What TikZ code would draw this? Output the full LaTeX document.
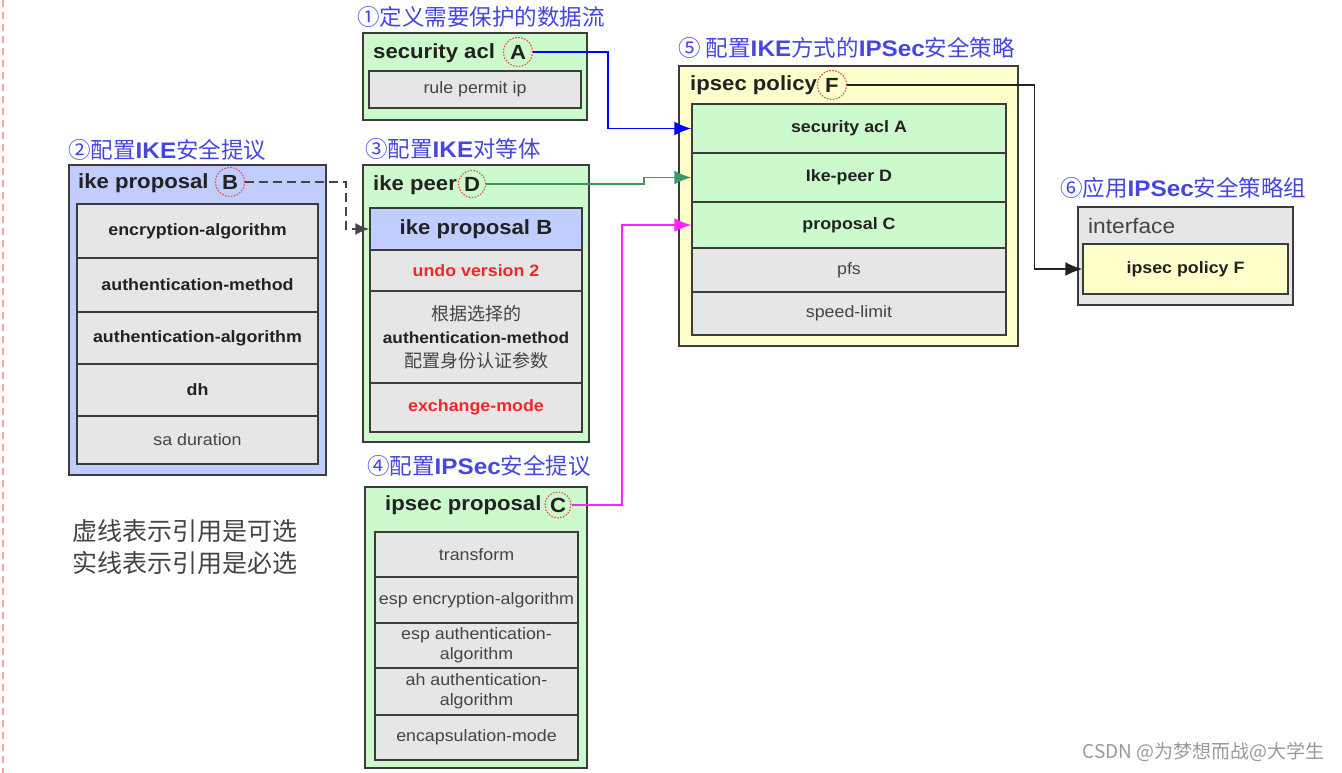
\documentclass[tikz,border=0pt]{standalone}
\usepackage{fontspec}
\setmainfont{Liberation Sans}[FakeStretch=1.08]
\newfontfamily\cjk{Noto Sans CJK SC}
\usetikzlibrary{arrows.meta}
\definecolor{bord}{HTML}{3C3C3C}
\definecolor{gfill}{HTML}{CCFACC}
\definecolor{bfill}{HTML}{C2CDFF}
\definecolor{grayfill}{HTML}{E6E6E6}
\definecolor{yfill}{HTML}{FFFFCC}
\definecolor{lblue}{HTML}{4646E0}
\definecolor{redtxt}{HTML}{F02828}
\definecolor{grn}{HTML}{3A9A66}
\definecolor{circred}{HTML}{E0504A}
\definecolor{txtdark}{HTML}{222222}
\definecolor{txtgray}{HTML}{444444}
\definecolor{pinkline}{HTML}{F2A4A4}
\definecolor{wmark}{HTML}{9A9A9A}
\definecolor{mag}{HTML}{FF22FF}
\newcommand\rbox[7]{%
  \pgfmathsetmacro\rbw{#5-#3}\pgfmathsetmacro\rbh{#6-#4}%
  \node[#1, minimum width=\rbw pt, minimum height=\rbh pt] (#2) at ({(#3+#5)/2},{(#4+#6)/2}) {#7};}
\tikzset{
  outerbox/.style={draw=bord, line width=1.8pt, inner sep=0pt},
  rowb/.style={draw=bord, line width=1.5pt, fill=grayfill, inner sep=0pt, align=center,
    font=\fontsize{16.5}{18}\selectfont\bfseries, text=txtdark},
  rowr/.style={draw=bord, line width=1.5pt, fill=grayfill, inner sep=0pt, align=center,
    font=\fontsize{16.5}{18}\selectfont, text=txtgray},
  titletxt/.style={anchor=west, inner sep=0pt, font=\fontsize{20.5}{24}\selectfont\bfseries, text=txtdark},
  lbl/.style={anchor=west, inner sep=0pt, font=\fontsize{22.5}{26}\selectfont, text=lblue},
  circ/.style={circle, draw=circred, dash pattern=on 1.6pt off 1.4pt, line width=1.1pt,
    minimum size=29pt, inner sep=0pt, font=\fontsize{20.5}{24}\selectfont\bfseries, text=txtdark},
  conn/.style={line width=1.8pt, -{Latex[length=17pt,width=14pt]}},
}
\begin{document}
\begin{tikzpicture}[x=1pt,y=-1pt]
\useasboundingbox[fill=white] (0,0) rectangle (1342,773);
% left dashed border
\coordinate (lt) at (3,0); \coordinate (lb) at (3,773);
\draw[pinkline, line width=1.6pt, dash pattern=on 7pt off 5pt] (lt) -- (lb);

% ---------- 1 security acl ----------
\node[lbl] (l1) at (357,17) {\cjk ①定义需要保护的数据流};
\rbox{outerbox, fill=gfill}{acl}{363}{33}{587}{120}{}
\node[titletxt] (aclt) at (373,53) {security acl};
\node[circ] (A) at (518,52) {A};
\rbox{rowr}{acl1}{369}{71}{581}{108}{rule permit ip}

% ---------- 2 ike proposal ----------
\node[lbl] (l2) at (68,150) {{\cjk ②配置}\textbf{IKE}{\cjk 安全提议}};
\rbox{outerbox, fill=bfill}{ikp}{69}{165}{326}{475}{}
\node[titletxt] (ikpt) at (78,183) {ike proposal};
\node[circ] (B) at (230,182) {B};
\rbox{rowb}{ikp1}{77}{204}{318}{258}{encryption-algorithm}
\rbox{rowb}{ikp2}{77}{258}{318}{312}{authentication-method}
\rbox{rowb}{ikp3}{77}{312}{318}{364}{authentication-algorithm}
\rbox{rowb}{ikp4}{77}{364}{318}{416}{dh}
\rbox{rowr}{ikp5}{77}{416}{318}{464}{sa duration}

% ---------- 3 ike peer ----------
\node[lbl] (l3) at (365,149) {{\cjk ③配置}\textbf{IKE}{\cjk 对等体}};
\rbox{outerbox, fill=gfill}{peer}{363}{165}{589}{442}{}
\node[titletxt] (peert) at (373,185) {ike peer};
\node[circ, minimum size=27pt] (D) at (472,184) {D};
\rbox{rowb, fill=bfill, font=\fontsize{20.5}{24}\selectfont\bfseries}{peer1}{370}{208}{582}{250}{ike proposal B}
\rbox{rowb, text=redtxt}{peer2}{370}{250}{582}{291}{undo version 2}
\rbox{rowb, font=\fontsize{16}{23.5}\selectfont\bfseries}{peer3}{370}{291}{582}{383}{{\cjk\mdseries\fontsize{18}{23.5}\selectfont\color{txtgray}根据选择的}\\authentication-method\\{\cjk\mdseries\fontsize{18}{23.5}\selectfont\color{txtgray}配置身份认证参数}}
\rbox{rowb, text=redtxt}{peer4}{370}{383}{582}{432}{exchange-mode}

% ---------- 4 ipsec proposal ----------
\node[lbl] (l4) at (367,466) {{\cjk ④配置}\textbf{IPSec}{\cjk 安全提议}};
\rbox{outerbox, fill=gfill}{ipp}{365}{487}{587}{768}{}
\node[titletxt] (ippt) at (385,505) {ipsec proposal};
\node[circ, minimum size=26pt] (C) at (558,505) {C};
\rbox{rowr}{ipp1}{375}{532}{578}{577}{transform}
\rbox{rowr}{ipp2}{375}{577}{578}{623}{esp encryption-algorithm}
\rbox{rowr, font=\fontsize{16.5}{20}\selectfont}{ipp3}{375}{623}{578}{668}{esp authentication-\\algorithm}
\rbox{rowr, font=\fontsize{16.5}{20}\selectfont}{ipp4}{375}{668}{578}{715}{ah authentication-\\algorithm}
\rbox{rowr}{ipp5}{375}{715}{578}{760}{encapsulation-mode}

% ---------- 5 ipsec policy ----------
\node[lbl] (l5) at (678,48) {{\cjk ⑤ 配置}\textbf{IKE}{\cjk 方式的}\textbf{IPSec}{\cjk 安全策略}};
\rbox{outerbox, fill=yfill}{pol}{679}{66}{1018}{346}{}
\node[titletxt] (polt) at (690,85) {ipsec policy};
\node[circ] (F) at (832,85) {F};
\rbox{rowb, fill=gfill}{pol1}{692}{104}{1006}{153}{security acl A}
\rbox{rowb, fill=gfill}{pol2}{692}{153}{1006}{202}{Ike-peer D}
\rbox{rowb, fill=gfill}{pol3}{692}{202}{1006}{248}{proposal C}
\rbox{rowr}{pol4}{692}{248}{1006}{292}{pfs}
\rbox{rowr}{pol5}{692}{292}{1006}{335}{speed-limit}

% ---------- 6 interface ----------
\node[lbl] (l6) at (1060,188) {{\cjk ⑥应用}\textbf{IPSec}{\cjk 安全策略组}};
\rbox{outerbox, fill=grayfill}{intf}{1078}{207}{1293}{305}{}
\node[titletxt, font=\fontsize{21}{24}\selectfont, text=txtgray] (intft) at (1088,226) {interface};
\rbox{rowb, fill=yfill}{intf1}{1083}{244}{1288}{294}{ipsec policy F}

% ---------- connectors ----------
\draw[conn, blue] (A.east) -| ([xshift=-83pt]pol1.west) -- (pol1.west);
\draw[conn, grn] (D.east) -| ([xshift=-47pt]pol2.west) -- (pol2.west);
\draw[conn, mag] (C.east) -| ([xshift=-69pt]pol3.west) -- (pol3.west);
\draw[line width=1.6pt, draw=txtgray, dash pattern=on 9pt off 5pt, -{Latex[length=14pt,width=12pt]}] (B.east) -| ([xshift=-23pt]peer1.west) -- (peer1.west);
\draw[line width=1.5pt, draw=txtdark, -{Latex[length=17pt,width=14pt]}] (F.east) -| ([xshift=-48pt]intf1.west) -- (intf1.west);

% ---------- notes ----------
\node[anchor=west, inner sep=0pt, align=left, text=txtgray, font=\cjk\fontsize{25}{32}\selectfont] (note) at (72,547) {虚线表示引用是可选\\实线表示引用是必选};
\node[anchor=east, inner sep=0pt, text=wmark, font=\cjk\fontsize{19}{22}\selectfont] (wm) at (1325,752) {CSDN @为梦想而战@大学生};
\end{tikzpicture}
\end{document}
